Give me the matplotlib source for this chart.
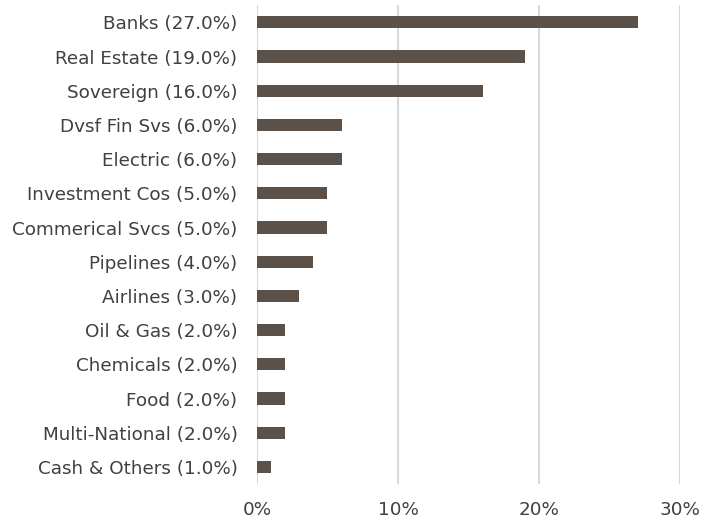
import matplotlib
matplotlib.use("Agg")
import matplotlib.pyplot as plt
from matplotlib.ticker import FuncFormatter

categories = ["Banks", "Real Estate", "Sovereign", "Dvsf Fin Svs", "Electric",
              "Investment Cos", "Commerical Svcs", "Pipelines", "Airlines",
              "Oil & Gas", "Chemicals", "Food", "Multi-National", "Cash & Others"]
values = [27.0, 19.0, 16.0, 6.0, 6.0, 5.0, 5.0, 4.0, 3.0, 2.0, 2.0, 2.0, 2.0, 1.0]
labels = ["%s (%.1f%%)" % (c, v) for c, v in zip(categories, values)]

fig = plt.figure(figsize=(7.01, 5.21), dpi=100)
ax = fig.add_axes([0.3666, 0.071, 0.6034, 0.919])

ypos = list(range(len(values)))
ax.barh(ypos, values, height=0.36, color="#5b5149", zorder=3)
ax.set_ylim(len(values) - 0.5, -0.5)
ax.set_xlim(0, 30)
ax.set_yticks(ypos)
ax.set_yticklabels(labels)
ax.set_xticks([0, 10, 20, 30])
ax.xaxis.set_major_formatter(FuncFormatter(lambda x, p: "%d%%" % x))

ax.grid(axis="x", color="#d9d9d9", linewidth=1.5, zorder=0)
for s in ax.spines.values():
    s.set_visible(False)
ax.tick_params(length=0, colors="#404040", labelsize=13.2)
ax.tick_params(axis="y", pad=14)
ax.tick_params(axis="x", pad=12)

fig.savefig("out.png", dpi=100)
